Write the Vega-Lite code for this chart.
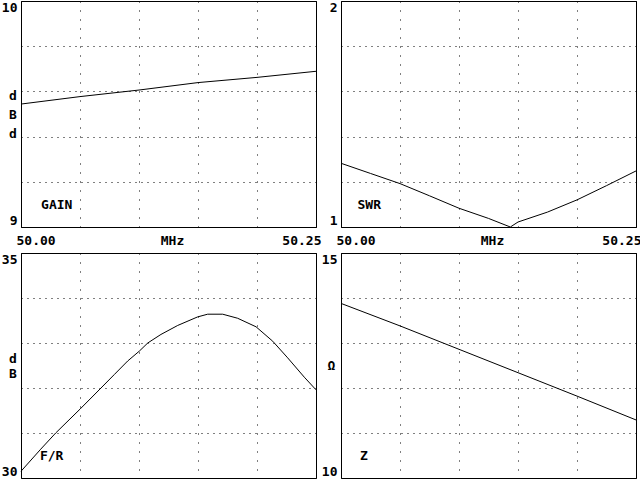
{
  "$schema": "https://vega.github.io/schema/vega-lite/v6.json",
  "padding": 0,
  "background": "white",
  "autosize": {"type": "pad"},
  "config": {
    "font": "DejaVu Sans Mono",
    "view": {"stroke": "black", "strokeWidth": 1},
    "axis": {
      "labelFont": "DejaVu Sans Mono", "labelFontSize": 13, "labelFontWeight": "bold", "labelColor": "black",
      "titleFont": "DejaVu Sans Mono", "titleFontSize": 13, "titleFontWeight": "bold", "titleColor": "black",
      "domain": false, "ticks": false, "tickSize": 0,
      "grid": true, "gridColor": "black", "gridOpacity": 1, "gridWidth": 1
    },
    "axisX": {"gridDash": [1, 8]},
    "axisY": {"gridDash": [1, 5], "labelPadding": 4, "labelFlush": true, "labelFlushOffset": 0}
  },
  "datasets": {
    "gain": [
      {"f": 50.00, "v": 9.544}, {"f": 50.05, "v": 9.577}, {"f": 50.10, "v": 9.606},
      {"f": 50.15, "v": 9.639}, {"f": 50.20, "v": 9.662}, {"f": 50.25, "v": 9.689}
    ],
    "swr": [
      {"f": 50.00, "v": 1.282}, {"f": 50.025, "v": 1.237}, {"f": 50.05, "v": 1.192},
      {"f": 50.075, "v": 1.138}, {"f": 50.10, "v": 1.083}, {"f": 50.125, "v": 1.038},
      {"f": 50.1435, "v": 1.0}, {"f": 50.15, "v": 1.022}, {"f": 50.175, "v": 1.066},
      {"f": 50.20, "v": 1.12}, {"f": 50.225, "v": 1.183}, {"f": 50.25, "v": 1.248}
    ],
    "fr": [
      {"f": 50.00, "v": 30.15}, {"f": 50.0167, "v": 30.64}, {"f": 50.0294, "v": 31.0},
      {"f": 50.05, "v": 31.53}, {"f": 50.0678, "v": 32.0}, {"f": 50.0791, "v": 32.30},
      {"f": 50.0904, "v": 32.60}, {"f": 50.1003, "v": 32.82}, {"f": 50.1074, "v": 33.0},
      {"f": 50.1186, "v": 33.19}, {"f": 50.1328, "v": 33.39}, {"f": 50.1497, "v": 33.58},
      {"f": 50.1582, "v": 33.64}, {"f": 50.1709, "v": 33.64}, {"f": 50.1836, "v": 33.55},
      {"f": 50.1992, "v": 33.36}, {"f": 50.2133, "v": 33.04}, {"f": 50.226, "v": 32.67},
      {"f": 50.2401, "v": 32.24}, {"f": 50.25, "v": 31.96}
    ],
    "z": [
      {"f": 50.00, "v": 13.88}, {"f": 50.05, "v": 13.38}, {"f": 50.10, "v": 12.86},
      {"f": 50.15, "v": 12.34}, {"f": 50.20, "v": 11.82}, {"f": 50.25, "v": 11.29}
    ],
    "labels": [
      {"panel": "GAIN", "label": "GAIN", "f": 50.017, "v": 9.097},
      {"panel": "SWR", "label": "SWR", "f": 50.014, "v": 1.097},
      {"panel": "FR", "label": "F/R", "f": 50.016, "v": 30.49},
      {"panel": "Z", "label": "Z", "f": 50.016, "v": 10.49}
    ]
  },
  "columns": 2,
  "spacing": {"row": 26, "column": 25},
  "bounds": "flush",
  "concat": [
    {
      "width": 295, "height": 226,
      "layer": [
        {
          "data": {"name": "gain"},
          "mark": {"type": "line", "color": "black", "strokeWidth": 1},
          "encoding": {
            "x": {"field": "f", "type": "quantitative", "scale": {"domain": [50, 50.25], "nice": false, "zero": false},
                  "axis": {"values": [50, 50.05, 50.1, 50.15, 50.2, 50.25],
                           "labelExpr": "datum.value == 50 || datum.value == 50.25 ? format(datum.value, '.2f') : ''",
                           "labelFlush": true, "labelFlushOffset": 5, "labelBaseline": "middle", "labelPadding": 13,
                           "title": "MHz", "titleX": 151, "titleY": 13, "titleBaseline": "middle", "titleAlign": "center"}},
            "y": {"field": "v", "type": "quantitative", "scale": {"domain": [9, 10], "nice": false, "zero": false},
                  "axis": {"values": [9, 9.2, 9.4, 9.6, 9.8, 10],
                           "labelExpr": "datum.value == 9 || datum.value == 10 ? format(datum.value, 'd') : ''",
                           "title": ["d", "B", "d"], "titleAngle": 0, "titleAlign": "center", "titleBaseline": "middle",
                           "titleX": -8.5, "titleY": 94, "titleLineHeight": 19}}
          }
        },
        {
          "data": {"name": "labels"},
          "transform": [{"filter": "datum.panel == 'GAIN'"}],
          "mark": {"type": "text", "align": "left", "baseline": "middle", "font": "DejaVu Sans Mono", "fontSize": 13, "fontWeight": "bold", "color": "black"},
          "encoding": {
            "x": {"field": "f", "type": "quantitative"},
            "y": {"field": "v", "type": "quantitative"},
            "text": {"field": "label"}
          }
        }
      ]
    },
    {
      "width": 295, "height": 226,
      "layer": [
        {
          "data": {"name": "swr"},
          "mark": {"type": "line", "color": "black", "strokeWidth": 1},
          "encoding": {
            "x": {"field": "f", "type": "quantitative", "scale": {"domain": [50, 50.25], "nice": false, "zero": false},
                  "axis": {"values": [50, 50.05, 50.1, 50.15, 50.2, 50.25],
                           "labelExpr": "datum.value == 50 || datum.value == 50.25 ? format(datum.value, '.2f') : ''",
                           "labelFlush": true, "labelFlushOffset": 5, "labelBaseline": "middle", "labelPadding": 13,
                           "title": "MHz", "titleX": 151, "titleY": 13, "titleBaseline": "middle", "titleAlign": "center"}},
            "y": {"field": "v", "type": "quantitative", "scale": {"domain": [1, 2], "nice": false, "zero": false},
                  "axis": {"values": [1, 1.2, 1.4, 1.6, 1.8, 2],
                           "labelExpr": "datum.value == 1 || datum.value == 2 ? format(datum.value, 'd') : ''",
                           "title": null}}
          }
        },
        {
          "data": {"name": "labels"},
          "transform": [{"filter": "datum.panel == 'SWR'"}],
          "mark": {"type": "text", "align": "left", "baseline": "middle", "font": "DejaVu Sans Mono", "fontSize": 13, "fontWeight": "bold", "color": "black"},
          "encoding": {
            "x": {"field": "f", "type": "quantitative"},
            "y": {"field": "v", "type": "quantitative"},
            "text": {"field": "label"}
          }
        }
      ]
    },
    {
      "width": 295, "height": 225,
      "layer": [
        {
          "data": {"name": "fr"},
          "mark": {"type": "line", "color": "black", "strokeWidth": 1},
          "encoding": {
            "x": {"field": "f", "type": "quantitative", "scale": {"domain": [50, 50.25], "nice": false, "zero": false},
                  "axis": {"values": [50, 50.05, 50.1, 50.15, 50.2, 50.25], "labels": false, "title": null}},
            "y": {"field": "v", "type": "quantitative", "scale": {"domain": [30, 35], "nice": false, "zero": false},
                  "axis": {"values": [30, 31, 32, 33, 34, 35],
                           "labelExpr": "datum.value == 30 || datum.value == 35 ? format(datum.value, 'd') : ''",
                           "title": ["d", "B"], "titleAngle": 0, "titleAlign": "center", "titleBaseline": "middle",
                           "titleX": -8.5, "titleY": 105.5, "titleLineHeight": 15}}
          }
        },
        {
          "data": {"name": "labels"},
          "transform": [{"filter": "datum.panel == 'FR'"}],
          "mark": {"type": "text", "align": "left", "baseline": "middle", "font": "DejaVu Sans Mono", "fontSize": 13, "fontWeight": "bold", "color": "black"},
          "encoding": {
            "x": {"field": "f", "type": "quantitative"},
            "y": {"field": "v", "type": "quantitative"},
            "text": {"field": "label"}
          }
        }
      ]
    },
    {
      "width": 295, "height": 225,
      "layer": [
        {
          "data": {"name": "z"},
          "mark": {"type": "line", "color": "black", "strokeWidth": 1},
          "encoding": {
            "x": {"field": "f", "type": "quantitative", "scale": {"domain": [50, 50.25], "nice": false, "zero": false},
                  "axis": {"values": [50, 50.05, 50.1, 50.15, 50.2, 50.25], "labels": false, "title": null}},
            "y": {"field": "v", "type": "quantitative", "scale": {"domain": [10, 15], "nice": false, "zero": false},
                  "axis": {"values": [10, 11, 12, 13, 14, 15],
                           "labelExpr": "datum.value == 10 || datum.value == 15 ? format(datum.value, 'd') : ''",
                           "title": "Ω", "titleAngle": 0, "titleAlign": "center", "titleBaseline": "middle",
                           "titleX": -10, "titleY": 112.5}}
          }
        },
        {
          "data": {"name": "labels"},
          "transform": [{"filter": "datum.panel == 'Z'"}],
          "mark": {"type": "text", "align": "left", "baseline": "middle", "font": "DejaVu Sans Mono", "fontSize": 13, "fontWeight": "bold", "color": "black"},
          "encoding": {
            "x": {"field": "f", "type": "quantitative"},
            "y": {"field": "v", "type": "quantitative"},
            "text": {"field": "label"}
          }
        }
      ]
    }
  ]
}
